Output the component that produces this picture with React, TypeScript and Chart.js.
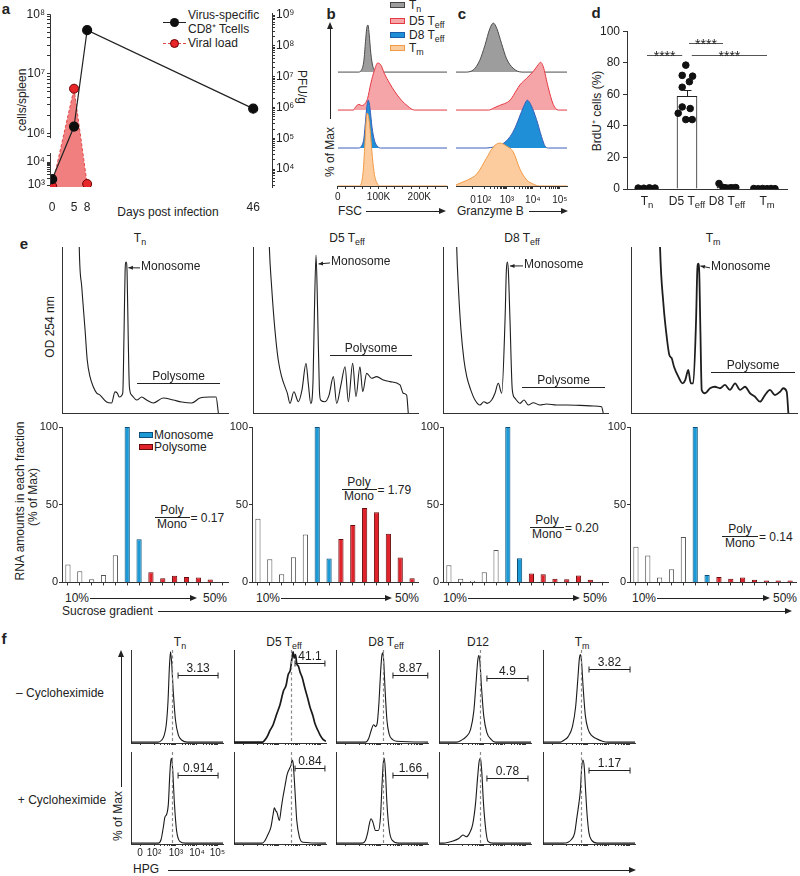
import React, { useEffect, useRef } from 'react';
import { Chart, registerables } from 'chart.js';

Chart.register(...registerables);
const FONT = '"Liberation Sans", Arial, Helvetica, sans-serif';
Chart.defaults.font.family = FONT;
Chart.defaults.color = '#222';

// ---------------- DATA ----------------
// Panel a
const infectionDays = [0, 5, 8, 46];
const cd8CellsPerSpleen = [1.8e3, 1.3e6, 5.4e7, 2.6e6];
const viralDays = [0, 5, 8];
const viralLoadPfu = [2.8e3, 4.1e6, 3.3e3];
const cellAxisSegments = [[1e3, 2.5e4], [8.3e5, 1e8]];
const cellMajorExps = [3, 4, 6, 7, 8];
const pfuMajorExps = [4, 5, 6, 7, 8, 9];

// Panel b (FSC, in K) and c (Granzyme B, display units)
const histRowBase = [3, 2, 1, 0];
const fscTnX = [0, 50, 58, 64, 68, 71, 74, 77, 81, 86, 92, 100, 268];
const fscTnH = [0, 0, 0.05, 0.3, 0.8, 1.15, 1.24, 1.0, 0.5, 0.15, 0.03, 0, 0];
const fscD5X = [0, 38, 45, 52, 58, 65, 73, 81, 90, 98, 106, 114, 127, 139, 156, 172, 188, 268];
const fscD5H = [0, 0, 0.1, 0.15, 0.12, 0.15, 0.3, 0.7, 1.05, 1.24, 1.18, 0.97, 0.71, 0.5, 0.26, 0.1, 0, 0];
const fscD8X = [0, 50, 58, 64, 68, 72, 75, 79, 84, 90, 97, 105, 268];
const fscD8H = [0, 0, 0.05, 0.25, 0.7, 1.15, 1.26, 1.05, 0.55, 0.2, 0.05, 0, 0];
const fscTmX = [0, 52, 58, 62, 66, 69, 72, 76, 80, 85, 90, 96, 104, 268];
const fscTmH = [0, 0, 0.08, 0.35, 1.0, 1.6, 1.92, 1.8, 1.4, 0.75, 0.3, 0.08, 0, 0];

const gzbTnX = [-0.64, -0.3, 0, 0.25, 0.45, 0.64, 0.77, 0.9, 1.08, 1.27, 1.52, 1.85, 3.55];
const gzbTnH = [0, 0, 0.05, 0.3, 0.7, 1.15, 1.29, 1.15, 0.75, 0.35, 0.1, 0, 0];
const gzbD5X = [-0.64, 0.6, 0.77, 1.0, 1.4, 1.65, 1.77, 2.03, 2.28, 2.47, 2.55, 2.65, 2.84, 3.03, 3.22, 3.55];
const gzbD5H = [0, 0, 0.05, 0.12, 0.26, 0.53, 0.66, 0.84, 1.02, 1.2, 1.26, 1.15, 0.6, 0.15, 0, 0];
const gzbD8X = [-0.64, 0.5, 0.8, 1.1, 1.4, 1.6, 1.8, 1.95, 2.05, 2.2, 2.4, 2.59, 2.72, 2.85, 3.55];
const gzbD8H = [0, 0, 0.03, 0.1, 0.3, 0.55, 0.9, 1.15, 1.26, 1.12, 0.75, 0.3, 0.05, 0, 0];
const gzbTmX = [-0.64, -0.4, -0.2, 0.15, 0.5, 0.77, 1.02, 1.27, 1.52, 1.77, 2.03, 2.28, 2.5, 3.55];
const gzbTmH = [0.03, 0.1, 0.16, 0.32, 0.72, 1.03, 1.13, 1.05, 0.9, 0.45, 0.16, 0.05, 0, 0];
const gzbTickPos = [0, 0.42, 1.28, 2.26, 3.28];
const logTickLabels = ['0', '10²', '10³', '10⁴', '10⁵'];

// Panel d
const brduGroupMain = ['T', 'D5 T', 'D8 T', 'T'];
const brduGroupSub = ['n', 'eff', 'eff', 'm'];
const brduMean = [0.6, 58.7, 1.0, 0.3];
const brduSem = [0, 4.2, 0, 0];
const brduDots = [
  [0.6, 0.5, 0.7, 0.6],
  [78.5, 72, 71.5, 68, 64.5, 52, 51, 48, 44, 44],
  [3.5, 1.0, 0.7, 0.5, 0.8, 0.6, 0.9],
  [0.3, 0.2, 0.3, 0.2, 0.3, 0.2],
];
const brduJitter = [
  [-0.22, -0.08, 0.06, 0.2],
  [-0.03, -0.12, 0.14, 0.06, -0.12, -0.12, 0.08, -0.22, -0.03, 0.13],
  [-0.2, -0.1, -0.03, 0.04, 0.1, 0.16, 0.22],
  [-0.33, -0.22, -0.11, 0, 0.1, 0.2],
];
const sigStart = [0, 1.05, 1.12];
const sigEnd = [0.88, 1.9, 3.0];
const sigLevel = [85, 92.5, 85];
const sigLabel = ['****', '****', '****'];

// Panel e top: OD254 profiles (x = % of gradient, y = % of panel height)
const odTnX = [10.2, 10.4, 11.9, 13.9, 15.2, 16.9, 18.9, 20.9, 22.9, 26.9, 29.9, 31.9, 33.3, 34.5, 36.6, 37.4, 38.0, 38.6, 39.2, 39.9, 40.6, 42.0, 45.0, 48.0, 51.0, 55.0, 61.0, 67.0, 72.1, 78.1, 83.1, 89.2, 92.8, 94.2];
const odTnY = [115, 100, 75.9, 50, 31.9, 21.7, 15.7, 12, 10.8, 6.6, 6, 12.7, 12, 9.6, 12, 50, 85, 91, 85, 45, 15.7, 10.8, 7.8, 9.6, 7.8, 6, 9, 7.8, 6.6, 6, 9, 9.6, 9.6, 0];
const odD5X = [9.5, 9.9, 11.3, 13.3, 15.3, 17.4, 19.4, 20.8, 22.4, 24.8, 27.5, 29.7, 32.1, 33.6, 35.0, 36.4, 37.2, 38.2, 39.2, 40.2, 41.0, 43.6, 46.1, 48.7, 50.7, 53.3, 55.8, 57.8, 60.4, 62.4, 64.8, 66.5, 68.9, 71.9, 74.9, 79, 83, 89.1, 91.1, 93.1, 94.1];
const odD5Y = [115, 100, 75.9, 50, 31.9, 21.7, 15.7, 12, 5.8, 12.8, 6.8, 13.9, 29.9, 16.9, 5.8, 19.9, 60, 95.2, 60, 15, 7.8, 6.8, 10.8, 21.9, 5.8, 16.9, 27.9, 6.8, 29.9, 9.8, 27.9, 12.8, 23.9, 20.9, 21.9, 19.9, 18.9, 16.9, 11.9, 10.8, 0];
const odD8X = [8.1, 8.3, 9.3, 10.9, 12.7, 14.4, 16.8, 19.4, 22.4, 24.8, 26.8, 29.5, 31.5, 33.5, 35.6, 37.6, 38.4, 39.0, 39.6, 40.6, 42.0, 43.6, 46.7, 49.1, 51.7, 54.7, 58.8, 62.8, 68.9, 74.9, 83.0, 91.1, 96.1, 97.1];
const odD8Y = [110, 100, 76.1, 50, 31.9, 21.9, 13.9, 7.8, 4.8, 6.8, 5.8, 7.8, 11.9, 17.9, 11.9, 56, 86, 91, 86, 56, 13.9, 8.9, 5.8, 7.8, 4.8, 6.2, 4.8, 5.4, 4.8, 4.8, 4.6, 4.2, 3.8, 0];
const odTmX = [17.2, 17.5, 19.5, 21.5, 23.1, 24.5, 25.9, 28.5, 31.1, 32.7, 34.5, 36.0, 37.5, 39.2, 39.9, 40.5, 41.1, 41.8, 42.6, 44.6, 47.6, 50.6, 53.6, 56.6, 59.6, 62.7, 65.7, 68.7, 71.7, 74.7, 77.7, 80.7, 83.7, 86.7, 89.8, 91.7, 93.8, 94.8];
const odTmY = [115, 100, 66.1, 46, 34.9, 33, 27.9, 21.9, 17.9, 19.9, 25.9, 17.9, 17.9, 56, 85, 90, 85, 50, 13.9, 11.9, 14.9, 15.8, 14.9, 16.9, 13.9, 17.9, 13.9, 15.8, 11.9, 9.8, 6.8, 10.8, 13.9, 10.8, 12.8, 14.9, 12.8, 0];
const odMonoText = [[47, 88], [46.7, 91], [48.5, 89.2], [47.6, 88]];
const odMonoTip = [[40, 87.5], [39.7, 89.8], [40.6, 88.6], [41.8, 88.6]];
const odPolyLine = [[45.2, 95.2, 18.1], [46.7, 96.4, 34.9], [47.9, 98.2, 15.7], [48.2, 98.8, 24.7]];

// Panel e bottom: RNA in fractions (% of max)
const fractionIndex = ['1', '2', '3', '4', '5', '6', '7', '8', '9', '10', '11', '12', '13', '14'];
const fractionType = ['w', 'w', 'w', 'w', 'w', 'm', 'm', 'p', 'p', 'p', 'p', 'p', 'p', 'p'];
const rnaTn = [11.5, 7.2, 2.1, 4.7, 17.4, 100, 27.7, 6.6, 2.6, 4.3, 3.4, 3.2, 1.9, 0];
const rnaD5 = [40.9, 14.9, 5.3, 16.2, 30.9, 100, 15.3, 27.9, 37, 47.9, 45.1, 31.3, 16, 2.7];
const rnaD8 = [11, 2.3, 1, 6.5, 20.8, 100, 15.6, 5.8, 5.2, 2.3, 2.1, 4.4, 1.7, 0.4];
const rnaTm = [22.9, 17.3, 3.1, 8.5, 29.2, 100, 4.8, 3.5, 2.3, 3.1, 1.7, 1.2, 1.2, 1.2];
const polyMonoRatio = ['0.17', '1.79', '0.20', '0.14'];

// Panel f: HPG histograms (display units, fraction of max)
const hpgTickPos = [0, 0.65, 1.67, 2.65, 3.6];
const hpgPeakPos = [1.49, 2.25, 1.77, 1.49, 1.35];
const hpgNoChxU = [
  [-0.42, 0.85, 1.0, 1.12, 1.22, 1.3, 1.37, 1.42, 1.47, 1.55, 1.65, 1.78, 1.95, 2.2, 3.86],
  [-0.42, 0.9, 1.1, 1.26, 1.4, 1.57, 1.72, 1.88, 2.0, 2.1, 2.2, 2.27, 2.33, 2.38, 2.44, 2.5, 2.58, 2.65, 2.75, 2.88, 3.0, 3.12, 3.25, 3.35, 3.48, 3.58, 3.72, 3.86],
  [-0.42, 0.95, 1.1, 1.22, 1.33, 1.42, 1.5, 1.58, 1.66, 1.72, 1.76, 1.8, 1.86, 1.95, 2.05, 2.2, 2.4, 3.86],
  [-0.42, 0.4, 0.62, 0.85, 1.05, 1.2, 1.3, 1.38, 1.43, 1.48, 1.56, 1.66, 1.8, 2.0, 2.2, 3.86],
  [-0.42, 0.4, 0.55, 0.75, 0.95, 1.1, 1.2, 1.27, 1.32, 1.37, 1.45, 1.55, 1.68, 1.85, 2.05, 2.35, 2.6, 3.86],
];
const hpgNoChxH = [
  [0.01, 0.01, 0.03, 0.08, 0.2, 0.45, 0.85, 1.0, 0.88, 0.55, 0.25, 0.09, 0.03, 0.01, 0.01],
  [0.01, 0.01, 0.06, 0.14, 0.2, 0.32, 0.42, 0.57, 0.63, 0.75, 0.8, 0.92, 1.0, 0.93, 0.97, 0.87, 0.84, 0.78, 0.72, 0.6, 0.5, 0.39, 0.3, 0.21, 0.14, 0.09, 0.04, 0.02],
  [0.01, 0.01, 0.05, 0.14, 0.2, 0.18, 0.22, 0.45, 0.8, 0.97, 0.99, 0.9, 0.6, 0.25, 0.1, 0.04, 0.02, 0.01],
  [0.01, 0.01, 0.03, 0.07, 0.15, 0.35, 0.65, 0.9, 0.96, 0.9, 0.6, 0.3, 0.12, 0.04, 0.01, 0.01],
  [0.01, 0.01, 0.03, 0.07, 0.18, 0.4, 0.7, 0.92, 0.97, 0.9, 0.6, 0.3, 0.15, 0.08, 0.05, 0.02, 0.01, 0.01],
];
const hpgChxU = [
  [-0.42, 0.85, 0.98, 1.08, 1.16, 1.24, 1.32, 1.38, 1.43, 1.47, 1.52, 1.6, 1.7, 1.85, 2.1, 3.86],
  [-0.42, 0.9, 1.0, 1.15, 1.3, 1.4, 1.46, 1.52, 1.58, 1.69, 1.78, 1.85, 1.95, 2.05, 2.17, 2.24, 2.28, 2.33, 2.39, 2.45, 2.5, 2.62, 2.78, 3.86],
  [-0.42, 0.8, 0.95, 1.05, 1.13, 1.21, 1.3, 1.42, 1.55, 1.65, 1.72, 1.78, 1.83, 1.88, 1.95, 2.06, 2.2, 2.5, 3.86],
  [-0.42, -0.2, 0.2, 0.5, 0.7, 0.85, 1.0, 1.15, 1.28, 1.38, 1.45, 1.51, 1.57, 1.65, 1.76, 1.86, 2.1, 3.86],
  [-0.42, 0.5, 0.75, 0.9, 1.05, 1.16, 1.25, 1.32, 1.38, 1.44, 1.5, 1.56, 1.63, 1.72, 1.85, 2.1, 3.86],
];
const hpgChxH = [
  [0.01, 0.01, 0.05, 0.18, 0.3, 0.33, 0.45, 0.75, 0.92, 0.95, 0.82, 0.45, 0.15, 0.03, 0.01, 0.01],
  [0.01, 0.01, 0.03, 0.1, 0.19, 0.33, 0.4, 0.37, 0.35, 0.26, 0.4, 0.51, 0.64, 0.77, 0.84, 0.88, 0.93, 0.9, 0.7, 0.45, 0.26, 0.08, 0.02, 0.01],
  [0.01, 0.01, 0.04, 0.12, 0.22, 0.28, 0.24, 0.15, 0.15, 0.3, 0.65, 0.9, 0.95, 0.8, 0.45, 0.15, 0.04, 0.01, 0.01],
  [0.01, 0.01, 0.03, 0.06, 0.1, 0.08, 0.12, 0.22, 0.45, 0.75, 0.92, 0.95, 0.8, 0.45, 0.15, 0.03, 0.01, 0.01],
  [0.01, 0.01, 0.02, 0.05, 0.12, 0.3, 0.45, 0.6, 0.85, 0.93, 0.85, 0.6, 0.33, 0.12, 0.04, 0.01, 0.01],
];
const hpgGateStart = [1.77, 2.42, 2.23, 1.81, 1.72];
const hpgGateEnd = [3.63, 3.81, 3.85, 3.72, 3.63];
const hpgGateLevel = [[0.75, 0.88, 0.75, 0.71, 0.81], [0.77, 0.84, 0.77, 0.73, 0.82]];
const hpgGatePct = [['3.13', '41.1', '8.87', '4.9', '3.82'], ['0.914', '0.84', '1.66', '0.78', '1.17']];

// ---------------- STYLES / HELPERS ----------------
const popStyle = [
  { line: '#4d4d4d', fill: '#9d9d9d' },
  { line: '#e53a44', fill: '#f5a5a8' },
  { line: '#3a5fb8', fill: '#1f8fd8' },
  { line: '#ef9a45', fill: '#fccb9e' },
];
const fracStyle: any = {
  w: { fill: '#ffffff', line: '#555' },
  m: { fill: '#1b9ad6', line: '#0c4f7a' },
  p: { fill: '#e0222b', line: '#6a0a0a' },
};
const SUPS = '⁰¹²³⁴⁵⁶⁷⁸⁹';
const toSup = (n: number) => String(n).split('').map((c) => SUPS[+c]).join('');

function cellPos(v: number) {
  const L = Math.log10(v);
  if (L <= 4.7) return (L - 3) * 23;
  if (L >= 5.9) return 52 + (L - 6) * 60;
  return 39.1 + ((L - 4.7) / 1.2) * (46 - 39.1);
}
function cellTicks() {
  const out: any[] = [];
  for (let d = 3; d <= 8; d++) {
    for (let k = 1; k <= 9; k++) {
      const v = k * Math.pow(10, d);
      const ok = cellAxisSegments.some(([a, b]) => v >= a * 0.999 && v <= b * 1.001);
      if (ok) out.push(v);
    }
  }
  return out;
}
function pfuTicks(min: number, max: number) {
  const out: number[] = [];
  for (let d = 3; d <= 9; d++) for (let k = 1; k <= 9; k++) {
    const v = k * Math.pow(10, d);
    if (v >= min && v <= max) out.push(v);
  }
  return out;
}
function withMinors(majors: number[], max: number) {
  const out = [...majors];
  for (let i = 1; i < majors.length; i++) {
    const step = i < majors.length - 1 ? majors[i + 1] - majors[i] : majors[i] - majors[i - 1];
    for (let k = 2; k <= 9; k++) {
      const v = majors[i] + Math.log10(k) * step;
      if (v < max) out.push(v);
    }
  }
  return out.sort((p, q) => p - q);
}
const labelAt = (v: number, pos: number[], labels: string[]) => {
  const i = pos.findIndex((p) => Math.abs(p - v) < 1e-6);
  return i >= 0 ? labels[i] : '';
};

function base(scales: any) {
  return {
    animation: false,
    responsive: false,
    events: [],
    plugins: { legend: { display: false }, tooltip: { enabled: false } },
    scales,
  };
}
const tickGrid = (len: number) => ({ display: true, drawOnChartArea: false, drawTicks: true, tickLength: len, color: '#333' });
const axisBorder = { display: true, color: '#333', width: 1 };

function fitConfig(cfg: any, m: number[]) {
  const [l, t, r, b] = m;
  const pad: any = { left: l, top: t, right: r, bottom: b };
  const scales = cfg.options.scales || {};
  Object.keys(scales).forEach((k) => {
    const s = scales[k];
    if (s.display === false) return;
    const isX = (s.axis || k.charAt(0)) === 'x';
    const pos = s.position || (isX ? 'bottom' : 'left');
    if (pos === 'left') { s.afterFit = (sc: any) => { sc.width = l; }; pad.left = 0; }
    if (pos === 'right') { s.afterFit = (sc: any) => { sc.width = r; }; pad.right = 0; }
    if (pos === 'bottom') { s.afterFit = (sc: any) => { sc.height = b; }; pad.bottom = 0; }
    if (pos === 'top') { s.afterFit = (sc: any) => { sc.height = t; }; pad.top = 0; }
  });
  cfg.options.layout = { padding: pad };
}

function arrowHead(ctx: any, x: number, y: number, ang: number, len = 5, half = 2.2) {
  ctx.save();
  ctx.translate(x, y);
  ctx.rotate(ang);
  ctx.beginPath();
  ctx.moveTo(0, 0);
  ctx.lineTo(-len, -half);
  ctx.lineTo(-len, half);
  ctx.closePath();
  ctx.fill();
  ctx.restore();
}

// ---------------- CHART CONFIGS ----------------
function makeA() {
  const cTicks = cellTicks();
  const pMin = 2630, pMax = 1.16e9;
  return {
    type: 'line',
    data: {
      datasets: [
        {
          data: infectionDays.map((d, i) => ({ x: d, y: cellPos(cd8CellsPerSpleen[i]) })),
          yAxisID: 'y', borderColor: '#222', borderWidth: 1.2, pointRadius: 4.5,
          pointBackgroundColor: '#0d0d0d', pointBorderColor: '#0d0d0d', fill: false,
        },
        {
          data: viralDays.map((d, i) => ({ x: d, y: viralLoadPfu[i] })),
          yAxisID: 'y2', borderColor: '#e04848', borderWidth: 1, borderDash: [3, 2], pointRadius: 4.5,
          pointBackgroundColor: '#e8262a', pointBorderColor: '#6b0000', pointBorderWidth: 1,
          fill: 'start', backgroundColor: 'rgba(238,104,104,0.85)',
        },
      ],
    },
    options: base({
      x: {
        type: 'linear', min: -0.5, max: 50.3,
        afterBuildTicks: (s: any) => { s.ticks = infectionDays.map((v) => ({ value: v })); },
        ticks: { font: { size: 12 }, padding: 5, autoSkip: false, maxRotation: 0, color: '#222' },
        grid: { display: false }, border: { display: false },
      },
      y: {
        type: 'linear', position: 'left', min: -2, max: 173,
        afterBuildTicks: (s: any) => { s.ticks = cTicks.map((v) => ({ value: cellPos(v) })); },
        ticks: {
          autoSkip: false, font: { size: 12 }, padding: 2, color: '#222',
          callback: (v: number) => {
            const e = cellMajorExps.find((x) => Math.abs(cellPos(Math.pow(10, x)) - v) < 1e-6);
            return e !== undefined ? '10' + toSup(e) : '';
          },
        },
        grid: tickGrid(3), border: { display: false },
      },
      y2: {
        type: 'logarithmic', position: 'right', min: pMin, max: pMax,
        afterBuildTicks: (s: any) => { s.ticks = pfuTicks(pMin, pMax).map((v) => ({ value: v })); },
        ticks: {
          autoSkip: false, font: { size: 12 }, padding: 1, color: '#222',
          callback: (v: number) => {
            const e = pfuMajorExps.find((x) => Math.abs(Math.pow(10, x) - v) < v * 1e-6);
            return e !== undefined ? '10' + toSup(e) : '';
          },
        },
        grid: tickGrid(3), border: axisBorder,
      },
    }),
    plugins: [{
      id: 'brokenAxis',
      afterDraw(chart: any) {
        const { ctx, chartArea, scales } = chart;
        ctx.save();
        ctx.strokeStyle = '#333';
        ctx.lineWidth = 1;
        const x = Math.round(chartArea.left) + 0.5;
        cellAxisSegments.forEach(([a, b]) => {
          ctx.beginPath();
          ctx.moveTo(x, scales.y.getPixelForValue(cellPos(a)));
          ctx.lineTo(x, scales.y.getPixelForValue(cellPos(b)));
          ctx.stroke();
        });
        ctx.restore();
      },
    }],
  };
}

function histConfig(xs: number[][], hs: number[][], xScale: any) {
  return {
    type: 'line',
    data: {
      datasets: xs.map((arr, i) => ({
        data: arr.map((x, j) => ({ x, y: histRowBase[i] + hs[i][j] })),
        fill: { value: histRowBase[i] },
        borderColor: popStyle[i].line, backgroundColor: popStyle[i].fill,
        borderWidth: 1, pointRadius: 0, cubicInterpolationMode: 'monotone', order: 4 - i,
      })),
    },
    options: base({
      x: xScale,
      y: { type: 'linear', min: 0, max: 4.53, display: false },
    }),
  };
}
function makeB() {
  return histConfig([fscTnX, fscD5X, fscD8X, fscTmX], [fscTnH, fscD5H, fscD8H, fscTmH], {
    type: 'linear', min: 0, max: 268,
    ticks: {
      stepSize: 20, autoSkip: false, maxRotation: 0, font: { size: 10 }, padding: 2, color: '#222',
      callback: (v: number) => (v === 0 ? '0' : v % 100 === 0 ? v + 'K' : ''),
    },
    grid: tickGrid(3), border: axisBorder,
  });
}
function makeC() {
  const ticks = withMinors(gzbTickPos, 3.55);
  return histConfig([gzbTnX, gzbD5X, gzbD8X, gzbTmX], [gzbTnH, gzbD5H, gzbD8H, gzbTmH], {
    type: 'linear', min: -0.64, max: 3.55,
    afterBuildTicks: (s: any) => { s.ticks = ticks.map((v) => ({ value: v })); },
    ticks: {
      autoSkip: false, maxRotation: 0, font: { size: 10 }, padding: 5, color: '#222',
      callback: (v: number) => labelAt(v, gzbTickPos, logTickLabels),
    },
    grid: tickGrid(3), border: axisBorder,
  });
}

function makeD() {
  const dots: any[] = [];
  brduDots.forEach((vals, g) => vals.forEach((v, k) => dots.push({ x: g + brduJitter[g][k], y: v })));
  return {
    type: 'scatter',
    data: {
      datasets: [
        { type: 'scatter', data: dots, pointRadius: 3.3, pointBackgroundColor: '#111', pointBorderColor: '#111', order: 1 },
        {
          type: 'bar', data: brduMean.map((v, i) => ({ x: i, y: v })), backgroundColor: '#fff', borderColor: '#222',
          borderWidth: 1, barThickness: 20, grouped: false, order: 2,
        },
      ],
    },
    options: base({
      x: {
        type: 'linear', min: -0.5, max: 3.5, offset: false, bounds: 'ticks',
        ticks: { display: false }, grid: { display: false, offset: false }, border: axisBorder,
      },
      y: {
        min: 0, max: 100, ticks: { stepSize: 20, font: { size: 12 }, padding: 3, color: '#222' },
        grid: tickGrid(4), border: axisBorder,
      },
    }),
    plugins: [{
      id: 'dAnn',
      afterDatasetsDraw(chart: any) {
        const { ctx, chartArea, scales } = chart;
        ctx.save();
        ctx.strokeStyle = '#222';
        ctx.fillStyle = '#222';
        ctx.lineWidth = 1;
        brduMean.forEach((mv, i) => {
          if (!brduSem[i]) return;
          const cx = Math.round(scales.x.getPixelForValue(i)) + 0.5;
          const ym = scales.y.getPixelForValue(mv);
          const yt = Math.round(scales.y.getPixelForValue(mv + brduSem[i])) + 0.5;
          ctx.beginPath();
          ctx.moveTo(cx, ym); ctx.lineTo(cx, yt);
          ctx.moveTo(cx - 4, yt); ctx.lineTo(cx + 4, yt);
          ctx.stroke();
        });
        ctx.font = `14px ${FONT}`;
        ctx.textAlign = 'center';
        ctx.textBaseline = 'alphabetic';
        ctx.strokeStyle = '#555';
        sigStart.forEach((s, i) => {
          const x0 = scales.x.getPixelForValue(s), x1 = scales.x.getPixelForValue(sigEnd[i]);
          const yy = Math.round(scales.y.getPixelForValue(sigLevel[i])) + 0.5;
          ctx.beginPath(); ctx.moveTo(x0, yy); ctx.lineTo(x1, yy); ctx.stroke();
          ctx.fillText(sigLabel[i], (x0 + x1) / 2, yy + 5);
        });
        const yb = chartArea.bottom + 16;
        brduGroupMain.forEach((m, i) => {
          const cx = scales.x.getPixelForValue(i);
          ctx.font = `12px ${FONT}`;
          const wm = ctx.measureText(m).width;
          ctx.font = `9.5px ${FONT}`;
          const ws = ctx.measureText(brduGroupSub[i]).width;
          const sx = cx - (wm + ws) / 2;
          ctx.textAlign = 'left';
          ctx.font = `12px ${FONT}`;
          ctx.fillText(m, sx, yb);
          ctx.font = `9.5px ${FONT}`;
          ctx.fillText(brduGroupSub[i], sx + wm, yb + 3);
        });
        ctx.restore();
      },
    }],
  };
}

const odX = [odTnX, odD5X, odD8X, odTmX];
const odY = [odTnY, odD5Y, odD8Y, odTmY];
function makeOD(i: number) {
  return {
    type: 'line',
    data: {
      datasets: [{
        data: odX[i].map((x, j) => ({ x, y: odY[i][j] })),
        borderColor: '#1e1e1e', borderWidth: i === 3 ? 1.8 : 1.1, pointRadius: 0,
        cubicInterpolationMode: 'monotone', fill: false,
      }],
    },
    options: base({
      x: { type: 'linear', min: 0, max: 100, ticks: { display: false }, grid: { display: false }, border: axisBorder },
      y: { type: 'linear', min: 0, max: 100, ticks: { display: false }, grid: { display: false }, border: axisBorder },
    }),
    plugins: [{
      id: 'odAnn',
      afterDatasetsDraw(chart: any) {
        const { ctx, scales: { x, y } } = chart;
        ctx.save();
        ctx.font = `12px ${FONT}`;
        ctx.fillStyle = '#222';
        ctx.strokeStyle = '#222';
        ctx.lineWidth = 1;
        const tx = x.getPixelForValue(odMonoText[i][0]), ty = y.getPixelForValue(odMonoText[i][1]);
        const px = x.getPixelForValue(odMonoTip[i][0]), py = y.getPixelForValue(odMonoTip[i][1]);
        ctx.textAlign = 'left';
        ctx.textBaseline = 'middle';
        ctx.fillText('Monosome', tx + 1, ty);
        ctx.beginPath(); ctx.moveTo(tx, ty + 1); ctx.lineTo(px, py); ctx.stroke();
        arrowHead(ctx, px, py, Math.atan2(py - ty - 1, px - tx), 4.5, 2);
        const [a, b, lv] = odPolyLine[i];
        const x0 = x.getPixelForValue(a), x1 = x.getPixelForValue(b), yy = Math.round(y.getPixelForValue(lv)) + 0.5;
        ctx.beginPath(); ctx.moveTo(x0, yy); ctx.lineTo(x1, yy); ctx.stroke();
        ctx.textAlign = 'center';
        ctx.textBaseline = 'alphabetic';
        ctx.fillText('Polysome', (x0 + x1) / 2, yy - 4);
        ctx.restore();
      },
    }],
  };
}

function makeRNA(values: number[]) {
  return {
    type: 'bar',
    data: {
      labels: fractionIndex,
      datasets: [{
        data: values,
        backgroundColor: fractionType.map((t) => fracStyle[t].fill),
        borderColor: fractionType.map((t) => fracStyle[t].line),
        borderWidth: 1, barPercentage: 0.44, categoryPercentage: 1,
      }],
    },
    options: base({
      x: { ticks: { display: false }, grid: { ...tickGrid(3), offset: false }, border: axisBorder },
      y: { min: 0, max: 100, ticks: { stepSize: 50, font: { size: 11 }, padding: 1, color: '#222' }, grid: tickGrid(3), border: axisBorder },
    }),
  };
}

function makeHPG(row: number, col: number) {
  const u = row === 0 ? hpgNoChxU[col] : hpgChxU[col];
  const h = row === 0 ? hpgNoChxH[col] : hpgChxH[col];
  const labelled = row === 1 && col === 0;
  const ticks = withMinors(hpgTickPos, 3.86);
  return {
    type: 'line',
    data: {
      datasets: [{
        data: u.map((x, j) => ({ x, y: h[j] })),
        borderColor: '#1a1a1a', borderWidth: row === 0 && col === 1 ? 1.7 : 1.1, pointRadius: 0,
        cubicInterpolationMode: 'monotone', fill: false,
      }],
    },
    options: base({
      x: {
        type: 'linear', min: -0.42, max: 3.86,
        afterBuildTicks: (s: any) => { s.ticks = ticks.map((v) => ({ value: v })); },
        ticks: {
          display: labelled, autoSkip: false, maxRotation: 0, font: { size: 10 }, padding: 1, color: '#222',
          callback: (v: number) => labelAt(v, hpgTickPos, logTickLabels),
        },
        grid: tickGrid(2), border: axisBorder,
      },
      y: { type: 'linear', min: 0, max: 1.02, ticks: { display: false }, grid: { display: false }, border: axisBorder },
    }),
    plugins: [{
      id: 'hpgAnn',
      afterDatasetsDraw(chart: any) {
        const { ctx, chartArea, scales: { x, y } } = chart;
        ctx.save();
        const dx = Math.round(x.getPixelForValue(hpgPeakPos[col])) + 0.5;
        ctx.strokeStyle = '#8a8a8a';
        ctx.lineWidth = 1.2;
        ctx.setLineDash([3, 2.5]);
        ctx.beginPath(); ctx.moveTo(dx, chartArea.top); ctx.lineTo(dx, chartArea.bottom); ctx.stroke();
        ctx.setLineDash([]);
        ctx.strokeStyle = '#222';
        ctx.lineWidth = 1;
        const x0 = x.getPixelForValue(hpgGateStart[col]), x1 = x.getPixelForValue(hpgGateEnd[col]);
        const gy = Math.round(y.getPixelForValue(hpgGateLevel[row][col])) + 0.5;
        ctx.beginPath();
        ctx.moveTo(x0, gy); ctx.lineTo(x1, gy);
        ctx.moveTo(x0, gy - 3); ctx.lineTo(x0, gy + 3);
        ctx.moveTo(x1, gy - 3); ctx.lineTo(x1, gy + 3);
        ctx.stroke();
        ctx.fillStyle = '#222';
        ctx.font = `12px ${FONT}`;
        ctx.textAlign = 'center';
        ctx.textBaseline = 'alphabetic';
        ctx.fillText(hpgGatePct[row][col], (x0 + x1) / 2, gy - 4);
        ctx.restore();
      },
    }],
  };
}

// ---------------- COMPONENTS ----------------
function ChartBox({ area, m, make }: any) {
  const ref = useRef<HTMLCanvasElement>(null);
  useEffect(() => {
    const cfg = make();
    fitConfig(cfg, m);
    const chart = new Chart(ref.current as HTMLCanvasElement, cfg);
    return () => chart.destroy();
  }, []);
  const [x, y, w, h] = area;
  const [l, t, r, b] = m;
  const W = w + l + r, H = h + t + b;
  return <canvas ref={ref} width={W} height={H} style={{ position: 'absolute', left: x - l, top: y - t, width: W, height: H }} />;
}

function T({ x, y, s = 12, a = 'c', rot = 0, b = false, children }: any) {
  const tx = a === 'c' ? '-50%' : a === 'r' ? '-100%' : '0';
  return (
    <div style={{
      position: 'absolute', left: x, top: y, fontSize: s, fontWeight: b ? 700 : 400, lineHeight: 1,
      whiteSpace: 'nowrap', transform: `translate(${tx}, -50%)${rot ? ` rotate(${rot}deg)` : ''}`,
    }}>{children}</div>
  );
}
const Sub = ({ children }: any) => <span style={{ fontSize: '0.74em', position: 'relative', top: '0.3em' }}>{children}</span>;

function HArrow({ x1, x2, y }: any) {
  return (
    <>
      <div style={{ position: 'absolute', left: x1, top: y - 0.5, width: x2 - x1 - 5, height: 1, background: '#222' }} />
      <div style={{ position: 'absolute', left: x2 - 7, top: y - 3, width: 0, height: 0, borderTop: '3px solid transparent', borderBottom: '3px solid transparent', borderLeft: '7px solid #222' }} />
    </>
  );
}
function VArrow({ x, y1, y2 }: any) {
  return (
    <>
      <div style={{ position: 'absolute', left: x - 0.5, top: y2 + 5, width: 1, height: y1 - y2 - 5, background: '#222' }} />
      <div style={{ position: 'absolute', left: x - 3, top: y2, width: 0, height: 0, borderLeft: '3px solid transparent', borderRight: '3px solid transparent', borderBottom: '7px solid #222' }} />
    </>
  );
}
function Swatch({ x, y, w, h, fill, line }: any) {
  return <div style={{ position: 'absolute', left: x, top: y, width: w, height: h, background: fill, border: `1px solid ${line}`, boxSizing: 'border-box' }} />;
}
function Frac({ cx, cy, w, value }: any) {
  return (
    <>
      <T x={cx} y={cy - 7}>Poly</T>
      <div style={{ position: 'absolute', left: cx - w / 2, top: cy, width: w, height: 1, background: '#222' }} />
      <T x={cx} y={cy + 7}>Mono</T>
      <T x={cx + w / 2 + 1} y={cy + 1} a="l">= {value}</T>
    </>
  );
}

const specs: any[] = [
  { key: 'a', area: [50, 12, 222, 175], m: [40, 8, 40, 30], make: makeA },
  { key: 'b', area: [337, 14, 110, 172], m: [4, 6, 10, 22], make: makeB },
  { key: 'c', area: [456, 14, 111, 172], m: [4, 6, 8, 24], make: makeC },
  { key: 'd', area: [627, 29, 160, 160], m: [30, 8, 10, 24], make: makeD },
  { key: 'e1', area: [62, 247, 166, 166], m: [2, 2, 4, 2], make: () => makeOD(0) },
  { key: 'e2', area: [253, 247, 165, 166], m: [2, 2, 4, 2], make: () => makeOD(1) },
  { key: 'e3', area: [443, 247, 165, 166], m: [2, 2, 4, 2], make: () => makeOD(2) },
  { key: 'e4', area: [631, 247, 166, 166], m: [2, 2, 2, 2], make: () => makeOD(3) },
  { key: 'r1', area: [62, 427, 166, 157], m: [26, 8, 4, 6], make: () => makeRNA(rnaTn) },
  { key: 'r2', area: [252, 427, 166, 157], m: [26, 8, 4, 6], make: () => makeRNA(rnaD5) },
  { key: 'r3', area: [443, 427, 165, 157], m: [26, 8, 4, 6], make: () => makeRNA(rnaD8) },
  { key: 'r4', area: [630, 427, 166, 157], m: [26, 8, 3, 6], make: () => makeRNA(rnaTm) },
];
const fCols = [131, 234, 336, 439, 543];
const fRows = [[650, 93], [752, 92]];
fRows.forEach(([top, h], row) => fCols.forEach((left, col) => {
  specs.push({
    key: `f${row}${col}`, area: [left, top, 92, h],
    m: [2, 9, 5, row === 1 && col === 0 ? 16 : 4], make: () => makeHPG(row, col),
  });
}));

export default function App() {
  return (
    <div style={{ position: 'absolute', left: 0, top: 0, width: 800, height: 876, background: '#fff', color: '#222', fontFamily: FONT, overflow: 'hidden' }}>
      {/* panel letters */}
      <T x={6} y={8} s={15} b>a</T>
      <T x={331} y={13} s={15} b>b</T>
      <T x={462} y={13} s={15} b>c</T>
      <T x={596} y={12} s={15} b>d</T>
      <T x={24} y={243} s={15} b>e</T>
      <T x={4} y={638} s={15} b>f</T>

      {/* panel a */}
      <T x={22} y={100} rot={-90}>cells/spleen</T>
      <T x={302} y={87} rot={90}>PFU/g</T>
      <T x={168} y={212}>Days post infection</T>
      <div style={{ position: 'absolute', left: 163, top: 21.5, width: 23, height: 0, borderTop: '1.2px solid #222' }} />
      <div style={{ position: 'absolute', left: 169.5, top: 17.5, width: 9, height: 9, borderRadius: '50%', background: '#111' }} />
      <T x={188} y={15} a="l">Virus-specific</T>
      <T x={188} y={29} a="l">CD8⁺ Tcells</T>
      <div style={{ position: 'absolute', left: 163, top: 43, width: 23, height: 0, borderTop: '1px dashed #e04848' }} />
      <div style={{ position: 'absolute', left: 170, top: 38.5, width: 9, height: 9, borderRadius: '50%', background: '#e8262a', border: '1px solid #6b0000', boxSizing: 'border-box' }} />
      <T x={188} y={43} a="l">Viral load</T>

      {/* panels b, c */}
      <Swatch x={390} y={2} w={15} h={6} fill={popStyle[0].fill} line="#444" />
      <Swatch x={390} y={18} w={15} h={6} fill={popStyle[1].fill} line={popStyle[1].line} />
      <Swatch x={390} y={32} w={15} h={6} fill={popStyle[2].fill} line="#1b5fa8" />
      <Swatch x={390} y={45} w={15} h={6} fill={popStyle[3].fill} line={popStyle[3].line} />
      <T x={409} y={5} a="l">T<Sub>n</Sub></T>
      <T x={409} y={21} a="l">D5 T<Sub>eff</Sub></T>
      <T x={409} y={35} a="l">D8 T<Sub>eff</Sub></T>
      <T x={409} y={48} a="l">T<Sub>m</Sub></T>
      <T x={330} y={152} rot={-90}>% of Max</T>
      <VArrow x={330} y1={119} y2={22} />
      <T x={338} y={211} a="l">FSC</T>
      <HArrow x1={366} x2={446} y={211} />
      <T x={457} y={211} a="l">Granzyme B</T>
      <HArrow x1={529} x2={568} y={211} />

      {/* panel d */}
      <T x={597} y={111} rot={-90}>BrdU⁺ cells (%)</T>

      {/* panel e */}
      <T x={140} y={238}>T<Sub>n</Sub></T>
      <T x={347} y={238}>D5 T<Sub>eff</Sub></T>
      <T x={522} y={238}>D8 T<Sub>eff</Sub></T>
      <T x={713} y={238}>T<Sub>m</Sub></T>
      <T x={50} y={327} rot={-90}>OD 254 nm</T>
      <T x={20} y={501} rot={-90}>RNA amounts in each fraction</T>
      <T x={33} y={497} rot={-90}>(% of Max)</T>
      <Swatch x={139} y={432} w={14} h={6} fill={fracStyle.m.fill} line={fracStyle.m.line} />
      <T x={154} y={435} a="l">Monosome</T>
      <Swatch x={139} y={444} w={14} h={6} fill={fracStyle.p.fill} line={fracStyle.p.line} />
      <T x={154} y={447} a="l">Polysome</T>
      <Frac cx={172} cy={517} w={35} value={polyMonoRatio[0]} />
      <Frac cx={359} cy={489} w={35} value={polyMonoRatio[1]} />
      <Frac cx={547} cy={527} w={34} value={polyMonoRatio[2]} />
      <Frac cx={740} cy={536} w={36} value={polyMonoRatio[3]} />
      <T x={65} y={598} a="l">10%</T>
      <HArrow x1={90} x2={197} y={598} />
      <T x={203} y={598} a="l">50%</T>
      <T x={256} y={598} a="l">10%</T>
      <HArrow x1={281} x2={392} y={598} />
      <T x={395} y={598} a="l">50%</T>
      <T x={443} y={598} a="l">10%</T>
      <HArrow x1={468} x2={580} y={598} />
      <T x={583} y={598} a="l">50%</T>
      <T x={632} y={598} a="l">10%</T>
      <HArrow x1={657} x2={770} y={598} />
      <T x={773} y={598} a="l">50%</T>
      <T x={62} y={611} a="l">Sucrose gradient</T>
      <HArrow x1={158} x2={792} y={611} />

      {/* panel f */}
      <T x={180} y={642}>T<Sub>n</Sub></T>
      <T x={284} y={642}>D5 T<Sub>eff</Sub></T>
      <T x={386} y={642}>D8 T<Sub>eff</Sub></T>
      <T x={478} y={642}>D12</T>
      <T x={582} y={642}>T<Sub>m</Sub></T>
      <T x={60} y={693}>– Cycloheximide</T>
      <T x={62} y={800}>+ Cycloheximide</T>
      <T x={118} y={816} rot={-90}>% of Max</T>
      <VArrow x={121} y1={787} y2={650} />
      <T x={146} y={869}>HPG</T>
      <HArrow x1={168} x2={636} y={870} />

      {specs.map((s) => <ChartBox key={s.key} area={s.area} m={s.m} make={s.make} />)}
    </div>
  );
}
